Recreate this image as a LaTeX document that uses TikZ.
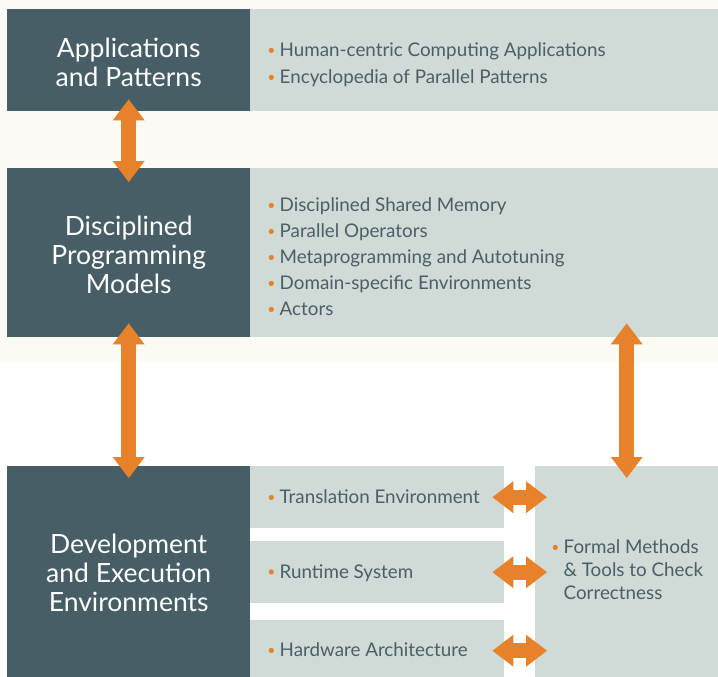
\documentclass[tikz,border=0pt]{standalone}
\usepackage{fontspec}
\setmainfont{Lato}
\usetikzlibrary{arrows.meta,positioning,calc}
\definecolor{slate}{HTML}{475E66}
\definecolor{pale}{HTML}{D0DAD7}
\definecolor{cream}{HTML}{FCFAF5}
\definecolor{orng}{HTML}{E8822A}
\definecolor{txt}{HTML}{4A5F66}
\newcommand{\bul}{\makebox[11pt][l]{\raisebox{3.8pt}{\tikz\fill[orng] (0,0) circle (2.6pt);}}}
\begin{document}
\begin{tikzpicture}[x=1pt,y=-1pt,
  darkbox/.style={fill=slate,draw=none,anchor=north west,inner sep=0pt},
  titletext/.style={text=white,align=center,inner sep=0pt,font=\fontsize{26.5}{29}\selectfont},
  palebox/.style={fill=pale,draw=none,anchor=north west,inner sep=0pt},
  listtext/.style={anchor=west,align=left,text=txt,font=\fontsize{18.8}{26}\selectfont,inner sep=0pt},
  blockarrow/.style={color=orng,line width=15pt,
    {Triangle[width=32pt,length=21pt,line width=0pt]}-{Triangle[width=32pt,length=21pt,line width=0pt]}}]
\useasboundingbox (0,0) rectangle (718,677);
\fill[cream] (0,0) rectangle (718,362);
\fill[white] (0,362) rectangle (718,677);
% row 1
\node[darkbox,minimum width=243pt,minimum height=102pt] (d1) at (7,9) {};
\node[titletext] (h1) at ([yshift=-2pt]d1.center) {Applications\\and Patterns};
\node[palebox,minimum width=468pt,minimum height=102pt] (l1) at (250,9) {};
\node[listtext,font=\fontsize{18.8}{27}\selectfont] (t1) at (268.5,65) {\bul Human-centric Computing Applications\\\bul Encyclopedia of Parallel Patterns};
% row 2
\node[darkbox,minimum width=243pt,minimum height=169pt] (d2) at (7,168) {};
\node[titletext] (h2) at ([yshift=-2pt]d2.center) {Disciplined\\Programming\\Models};
\node[palebox,minimum width=468pt,minimum height=169pt] (l2) at (250,168) {};
\node[listtext] (t2) at (268.5,257) {\bul Disciplined Shared Memory\\\bul Parallel Operators\\\bul Metaprogramming and Autotuning\\\bul Domain-specific Environments\\\bul Actors};
% row 3
\node[darkbox,minimum width=243pt,minimum height=211pt] (d3) at (7,466) {};
\node[titletext] (h3) at ([yshift=-1pt]d3.center) {Development\\and Execution\\Environments};
\node[palebox,minimum width=254pt,minimum height=62pt] (s1) at (250,466) {};
\node[palebox,minimum width=254pt,minimum height=62pt] (s2) at (250,541) {};
\node[palebox,minimum width=254pt,minimum height=57pt] (s3) at (250,620) {};
\node[palebox,minimum width=183pt,minimum height=211pt] (f) at (535,466) {};
\node[listtext] (ts1) at (268.5,497) {\bul Translation Environment};
\node[listtext] (ts2) at (268.5,573) {\bul Runtime System};
\node[listtext] (ts3) at (268.5,650) {\bul Hardware Architecture};
\node[listtext,font=\fontsize{18.8}{23}\selectfont] (tf) at (552.5,570) {\bul Formal Methods\\\hspace*{11pt}\&~Tools to Check\\\hspace*{11pt}Correctness};
% arrows
\draw[blockarrow] ([yshift=12pt]d1.south) -- ([yshift=-14pt]d2.north);
\draw[blockarrow] ([yshift=14pt]d2.south) -- ([yshift=-12pt]d3.north);
\draw[blockarrow] ([yshift=14pt]l2.south -| f.north) -- ([yshift=-12pt]f.north);
\draw[blockarrow] ([xshift=-12pt]s1.east) -- ([xshift=12pt]f.west |- s1.east);
\draw[blockarrow] ([xshift=-12pt]s2.east) -- ([xshift=12pt]f.west |- s2.east);
\draw[blockarrow] ([xshift=-12pt,yshift=-2pt]s3.east) -- ([xshift=12pt,yshift=-2pt]f.west |- s3.east);
\end{tikzpicture}
\end{document}
